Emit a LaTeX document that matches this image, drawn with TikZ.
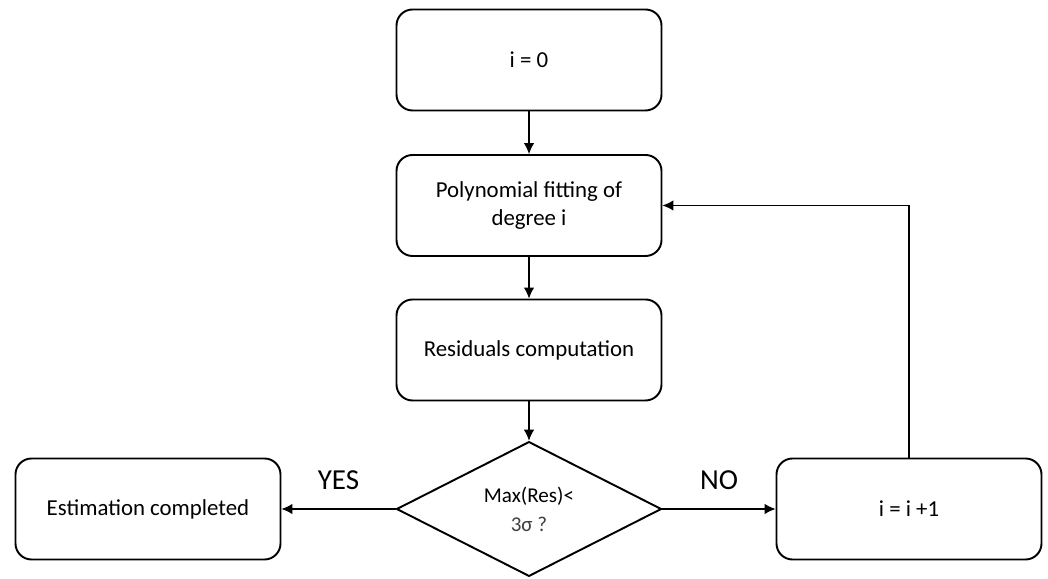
\documentclass[tikz,border=0pt]{standalone}
\usepackage{fontspec}
\setmainfont{Carlito}
\usetikzlibrary{shapes.geometric,arrows.meta}
\begin{document}
\begin{tikzpicture}[every node/.style={font=\fontsize{13}{16}\selectfont},
	stepbox/.style={rectangle,rounded corners=0.32cm,draw,line width=1.1pt,
		minimum width=5.3cm,minimum height=2.02cm,align=center},
	test/.style={diamond,draw,line width=1.1pt,minimum width=5.3cm,
		minimum height=2.68cm,inner sep=0,align=center,
		font=\fontsize{12}{16.5}\selectfont},
	arrow/.style={-{Latex[length=2.2mm,width=2.1mm]},line width=0.6pt},
	answer/.style={above=0.25cm,font=\fontsize{16.5}{18}\selectfont}]
\useasboundingbox (0,0) rectangle (20.96,11.58);
\node[stepbox] (init) at (10.58,10.38) {i = 0};
\node[stepbox] (fit) at (10.58,7.47) {Polynomial fitting of\\degree i};
\node[stepbox] (res) at (10.58,4.58) {Residuals computation};
\node[test] (check) at (10.58,1.40) {Max(Res)<\\\textcolor{black!75}{3σ ?}};
\node[stepbox] (done) at (2.96,1.40) {Estimation completed};
\node[stepbox] (incr) at (18.18,1.40) {i = i +1};
\draw[arrow] (init) -- (fit);
\draw[arrow] (fit) -- (res);
\draw[arrow] (res) -- (check);
\draw[arrow] (check) -- node[answer] {YES} (done);
\draw[arrow] (check) -- node[answer] {NO} (incr);
\draw[arrow] (incr.north) |- (fit.east);
\end{tikzpicture}
\end{document}
